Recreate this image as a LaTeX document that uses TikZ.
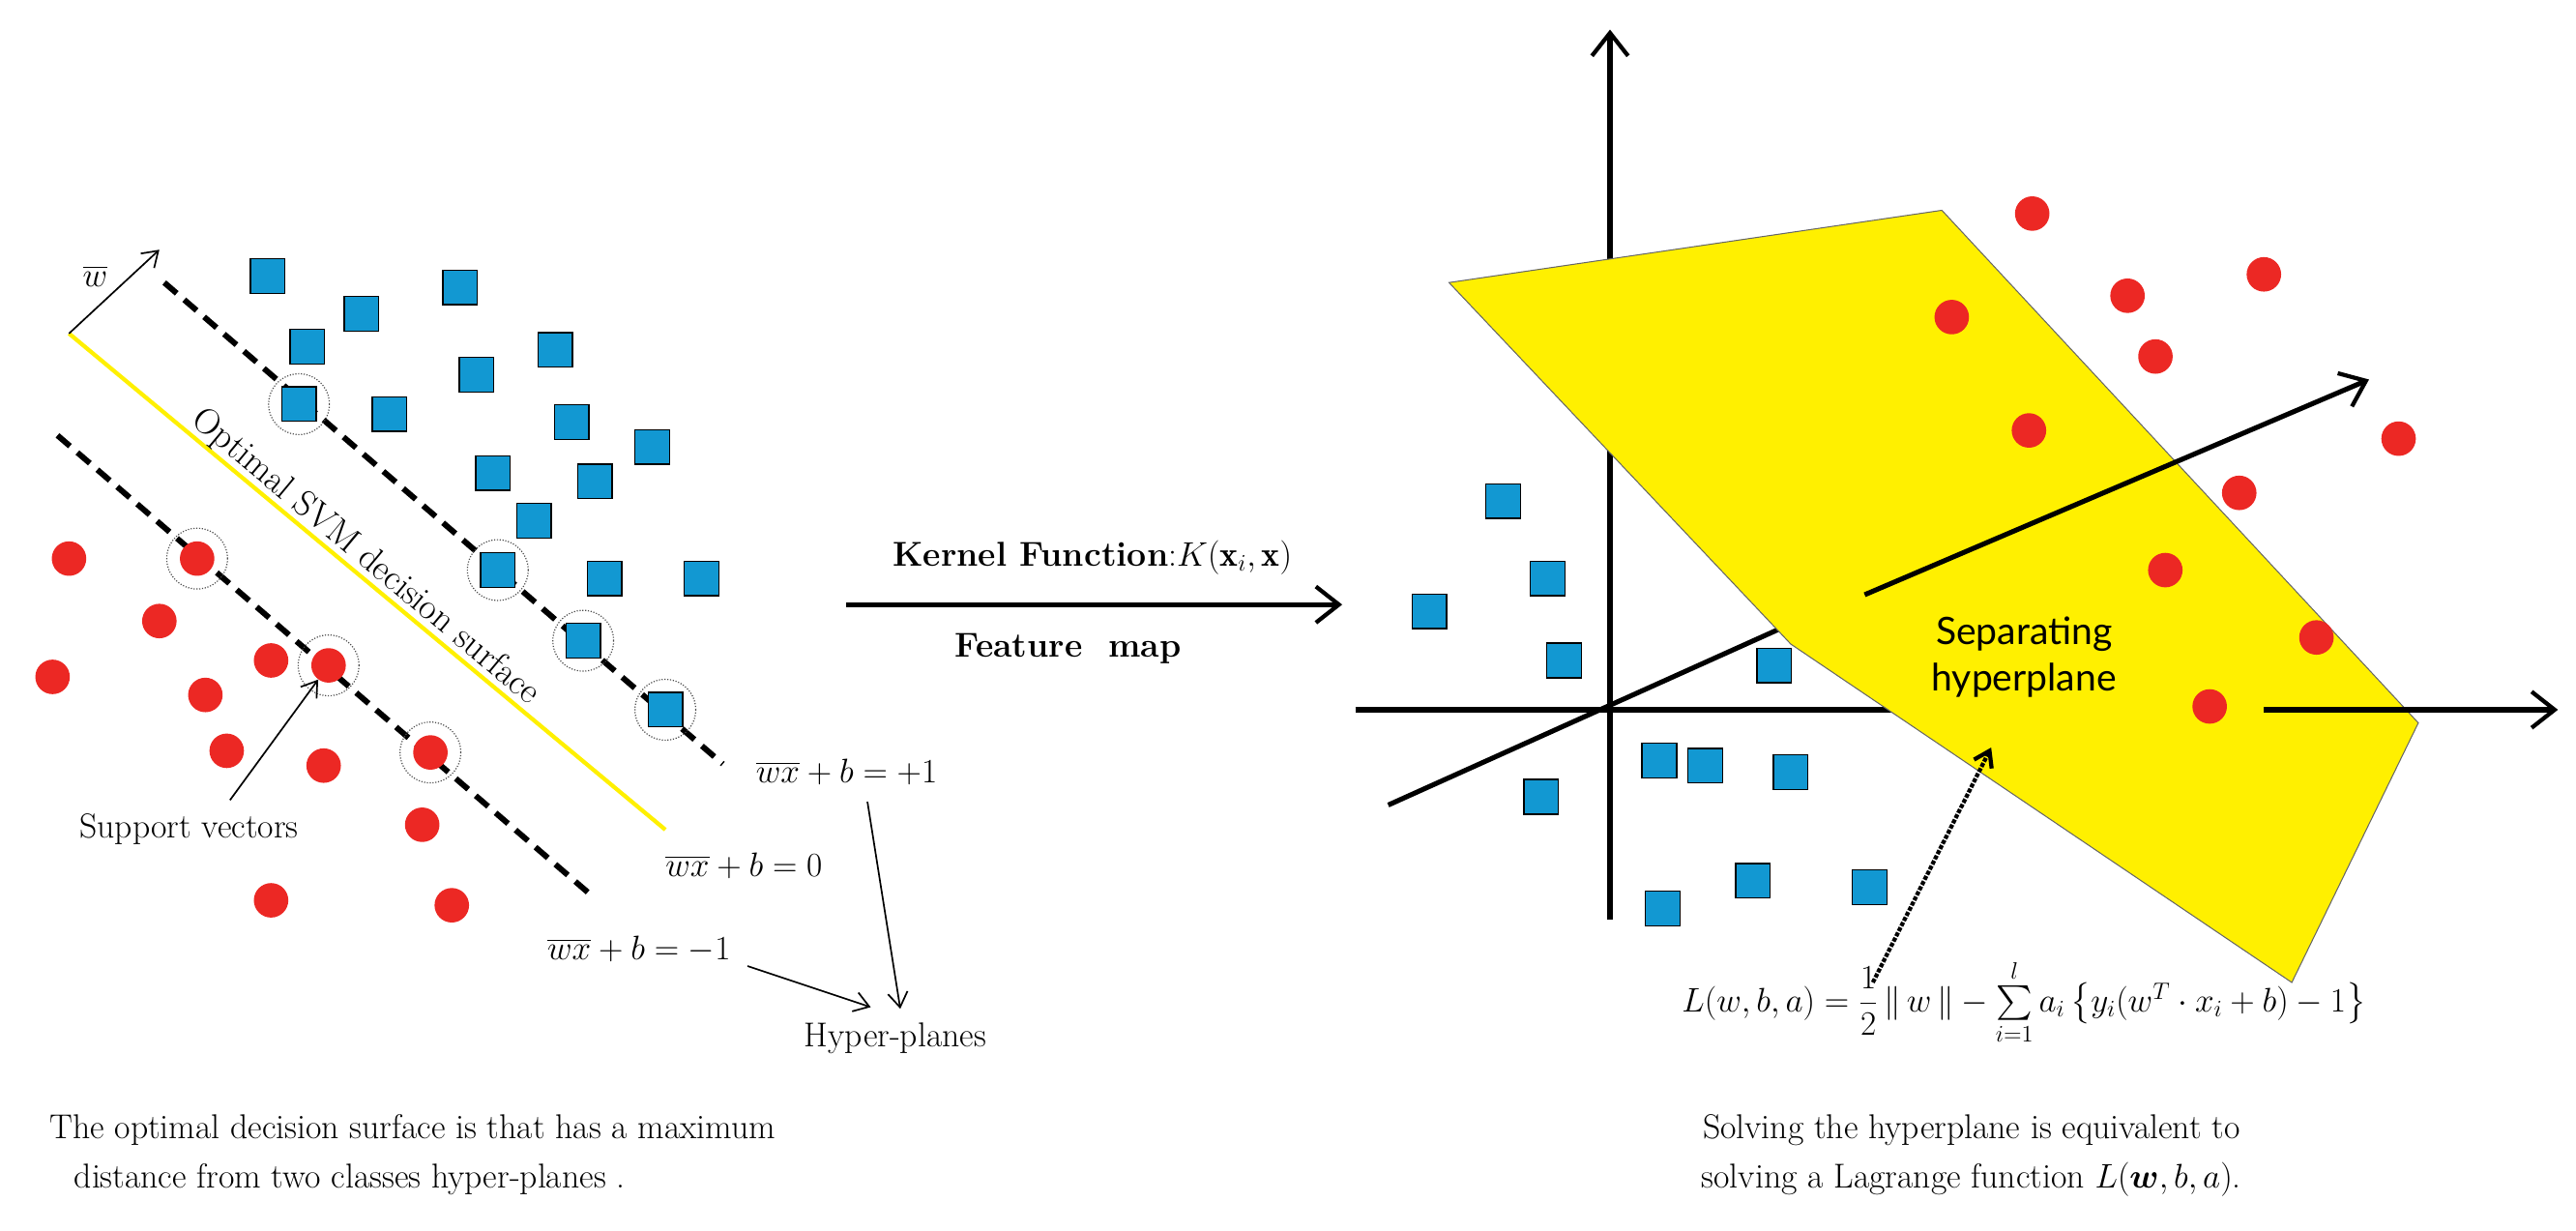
\documentclass[tikz,border=0pt]{standalone}
\usepackage{amsmath,amssymb}
\usepackage{fontspec}
\newfontfamily\sepfont{Lato}
\usetikzlibrary{arrows.meta}
\definecolor{sqblue}{RGB}{18,152,210}
\definecolor{dotred}{RGB}{236,40,36}
\definecolor{planey}{RGB}{255,240,0}
\begin{document}
\begin{tikzpicture}[x=1pt,y=-1pt,
  sq/.style={draw=black,line width=0.8pt,fill=sqblue,minimum size=21pt,inner sep=0pt,rectangle},
  rd/.style={fill=dotred,circle,minimum size=21pt,inner sep=0pt},
  sv/.style={draw=black!70,densely dotted,line width=0.7pt,circle,minimum size=37pt,inner sep=0pt},
  hp/.style={line width=3.5pt,dash pattern=on 10pt off 6pt},
  txt/.style={font=\fontsize{21}{25}\selectfont,inner sep=0pt},
  ar/.style={-{Straight Barb[length=9pt,width=12pt]},line width=1pt},
  ax/.style={-{Straight Barb[length=14pt,width=22pt,line width=2.5pt]},line width=3pt}]
\useasboundingbox (0,0) rectangle (1568,749);
% ---------- left panel ----------
\coordinate (ys) at (42,203); \coordinate (ye) at (405,505);
\coordinate (wt) at (97,152);
\draw[planey,line width=2.5pt] (ys) -- (ye);
\draw[ar] (ys) -- (wt);
\node[txt] (wl) at (58,168) {$\overline{w}$};
\coordinate (ua) at (100,172); \coordinate (ub) at (440,465);
\coordinate (la) at (35,265); \coordinate (lb) at (360,545);
\draw[hp] (ua) -- (ub);
\draw[hp] (la) -- (lb);
\node[font=\fontsize{22}{26}\selectfont,inner sep=0pt,rotate=-39.8,anchor=south] (opt) at (216,347) {Optimal SVM decision surface};
\foreach \n/\x/\y in {s1/163/168,s2/220/191,s3/280/175,s4/187/211,s5/237/252,s6/290/228,s7/338/213,s8/348/257,s9/397/272,s10/300/288,s11/362/293,s12/325/317,s13/368/352,s14/427/352}
  \node[sq] (\n) at (\x,\y) {};
\foreach \n/\x/\y in {c1/182/246,c2/303/347,c3/355/390,c4/405/432}
  {\node[sq] (\n) at (\x,\y) {}; \node[sv] at (\x,\y) {};}
\foreach \n/\x/\y in {r1/42/340,r2/97/378,r3/32/412,r4/165/402,r5/125/423,r6/138/457,r7/197/466,r8/257/502,r9/165/548,r10/275/551}
  \node[rd] (\n) at (\x,\y) {};
\foreach \n/\x/\y in {v1/120/340,v2/200/405,v3/262/458}
  {\node[rd] (\n) at (\x,\y) {}; \node[sv] at (\x,\y) {};}
\node[txt] (sup) at (115,505) {Support vectors};
\draw[ar] (140,487) -- (v2);
\node[txt,anchor=west] (e1) at (460,470) {$\overline{wx}+b=+1$};
\node[txt,anchor=west] (e0) at (405,527) {$\overline{wx}+b=0$};
\node[txt,anchor=west] (em) at (333,578) {$\overline{wx}+b=-1$};
\node[txt] (hyp) at (545,632) {Hyper-planes};
\draw[ar] (528,488) -- (548,614);
\draw[ar] (455,588) -- (530,613);
\node[txt,anchor=west] (cap1) at (30,688) {The optimal decision surface is that has a maximum};
\node[txt,anchor=west] (cap2) at (45,718) {distance from two classes hyper-planes .};
% ---------- middle ----------
\node[txt,anchor=south] (kf) at (665,350) {\textbf{Kernel Function}:$K(\mathbf{x}_i,\mathbf{x})$};
\coordinate (ka) at (515,368); \coordinate (kb) at (817,368);
\draw[ax] (ka) -- (kb);
\node[txt] (fm) at (650,395) {\textbf{Feature\ \ map}};
% ---------- right panel ----------
\coordinate (o) at (980,432);
\coordinate (vb) at (980,560); \coordinate (vt) at (980,18);
\coordinate (hl) at (825,432); \coordinate (hr) at (1557,432);
\coordinate (dl) at (845,490); \coordinate (dm) at (1085,382);
\draw[ax] (vb) -- (vt);
\draw[ax] (hl) -- (hr);
\draw[line width=3pt] (dl) -- (dm);
\foreach \n/\x/\y in {q1/915/305,q2/942/352,q3/870/372,q4/952/402,q5/1080/405,q6/1010/463,q7/1038/466,q8/1090/470,q9/938/485,q10/1012/553,q11/1067/536,q12/1138/540}
  \node[sq] (\n) at (\x,\y) {};
\fill[planey,draw=black!60,line width=0.6pt] (882,172) -- (1182,128) -- (1472,440) -- (1395,598) -- (1090,392) -- cycle;
\draw[ax] (1135,362) -- (1442,231);
\foreach \n/\x/\y in {p1/1237/130,p2/1295/180,p3/1378/167,p4/1188/193,p5/1312/217,p6/1235/262,p7/1460/267,p8/1363/300,p9/1318/347,p10/1410/388,p11/1345/430}
  \node[rd] (\n) at (\x,\y) {};
\draw[line width=3pt] (1378,432) -- (1470,432);
\node[font=\sepfont\fontsize{23}{28}\selectfont,align=center] (sep) at (1232,400) {Separating\\hyperplane};
\coordinate (lg) at (1140,598);
\draw[-{Straight Barb[length=9pt,width=12pt]},line width=2.5pt,densely dotted] (lg) -- (1212,455);
\node[font=\fontsize{21}{25}\selectfont,inner sep=0pt] (lag) at (1232,610) {$L(w,b,a)=\dfrac{1}{2}\,\|\,w\,\|-\sum\limits_{i=1}^{l}a_i\,\bigl\{y_i(w^T\cdot x_i+b)-1\bigr\}$};
\node[txt] (cap3) at (1200,688) {Solving the hyperplane is equivalent to};
\node[txt] (cap4) at (1200,718) {solving a Lagrange function $L(\boldsymbol{w},b,a)$.};
\end{tikzpicture}
\end{document}
